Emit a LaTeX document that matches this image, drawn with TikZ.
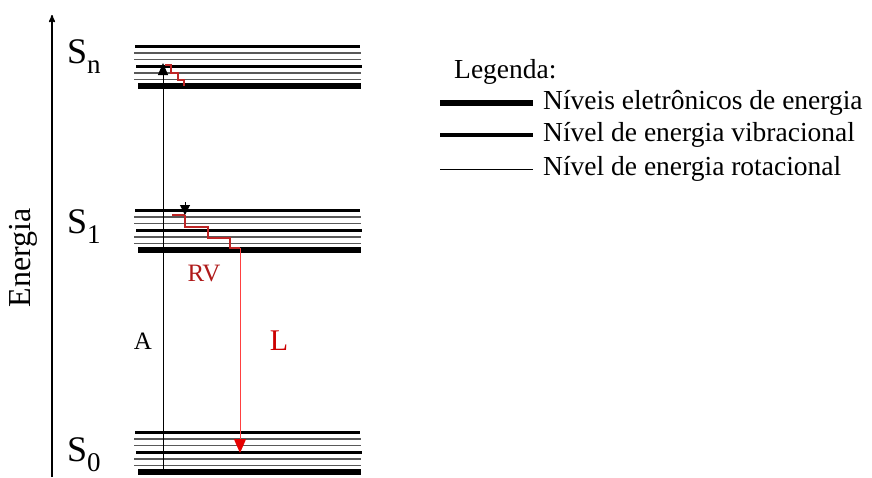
\documentclass[tikz,border=0pt]{standalone}
\usepackage{fontspec}
\setmainfont{Liberation Serif}
\usetikzlibrary{arrows, arrows.meta, positioning}

% subscript for the state labels
\newcommand\stsub[1]{\raisebox{-0.3em}{\fontsize{27}{27}\selectfont #1}}

\begin{document}
\begin{tikzpicture}[x=1pt,y=-1pt,>=stealth',
                    elec/.style={line width=5.5pt},
                    vib/.style={line width=3pt},
                    rot/.style={line width=1.6pt,black!65},
                    state/.style={anchor=base west,inner sep=0pt,font=\fontsize{36}{36}\selectfont},
                    legtext/.style={anchor=west,inner sep=0pt,font=\fontsize{27.5}{30}\selectfont},
                    relax/.style={line width=1.5pt,red!70!black!85},
                    %tip/.style={-{Triangle[width=9pt,length=11pt]}}
                    ]
  \useasboundingbox (0,0) rectangle (872,477);

  % energy axis
  \coordinate (ax0) at (52,477);
  \coordinate (ax1) at (52,15);
  \draw[->,line width=1.5pt] (ax0) -- (ax1);
  \node[rotate=90,font=\fontsize{32}{34}\selectfont] (energia) at (23,258) {Energia};

  % levels of S_n, S_1 and S_0
  \foreach \y in {46,210,432} {
    \draw[vib] (135,\y) -- (360,\y);
    \draw[rot] (134,\y+6.7) -- (361,\y+6.7);
    \draw[rot] (134,\y+13.3) -- (361,\y+13.3);
    \draw[vib] (136,\y+20) -- (362,\y+20);
    \draw[rot] (134,\y+26.7) -- (361,\y+26.7);
    \draw[rot] (134,\y+33.3) -- (361,\y+33.3);
    \draw[elec] (138,\y+40) -- (361,\y+40);
  }

  \node[state] (sn) at (67,63) {S\stsub{n}};
  \node[state] (s1) at (67,233) {S\stsub{1}};
  \node[state] (s0) at (67,461) {S\stsub{0}};

  % absorption
  \coordinate (a0) at (163,473);
  \coordinate (a1) at (163,63);
  \draw[line width=1pt,-{Triangle[width=10pt,length=12pt]}] (a0) -- (a1);
  \node[font=\fontsize{25}{28}\selectfont] (alab) at (143,341) {A};

  % vibrational relaxation
  \coordinate (r0) at (165,65);
  \coordinate (r1) at (184,86);
  \draw[relax] (r0) -| (171,73) -| (178,80) -| (r1);

  \coordinate (t0) at (185,202);
  \coordinate (t1) at (185,215);
  \draw[relax] (172,215) -- (t1);
  \draw[line width=1pt,-{Triangle[width=10pt,length=10pt]}] (t0) -- (t1);
  \coordinate (l0) at (240,248);
  \draw[relax] (t1) |- (208,227) |- (230,238) |- (l0);
  \node[font=\fontsize{25}{28}\selectfont,text=red!65!black!90] (rv) at (204,273) {RV};

  % luminescence
  \coordinate (l1) at (240,453);
  \draw[line width=1pt,red!75,-{Triangle[width=12pt,length=14pt,fill=red!90!black,color=red!90!black]}] (l0) -- (l1);
  \node[font=\fontsize{30}{32}\selectfont,text=red!80!black] (llab) at (279,341) {L};

  % legend
  \node[legtext] (leg) at (454,72) {Legenda:};
  \node[legtext] (le) at (543,103) {Níveis eletrônicos de energia};
  \node[legtext] (lv) at (543,135) {Nível de energia vibracional};
  \node[legtext] (lr) at (543,169) {Nível de energia rotacional};
  \coordinate (ke) at (440,103);
  \coordinate (kv) at (440,135);
  \coordinate (kr) at (440,169);
  \draw[line width=6pt] (ke) -- ([xshift=-10pt]le.west);
  \draw[line width=3.5pt] (kv) -- ([xshift=-10pt]lv.west);
  \draw[line width=0.8pt] (kr) -- ([xshift=-10pt]lr.west);
\end{tikzpicture}
\end{document}
